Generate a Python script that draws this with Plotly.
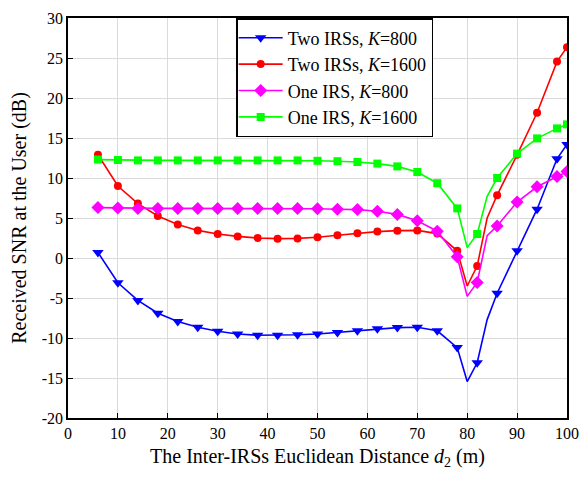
import plotly.graph_objects as go

# ---- data ----
distance = [6, 10, 14, 18, 22, 26, 30, 34, 38, 42, 46, 50, 54, 58, 62, 66, 70, 74, 78, 80, 82, 84, 86, 90, 94, 98, 100]
two_irs_k800 = [0.7, -3.1, -5.3, -6.9, -7.95, -8.65, -9.15, -9.5, -9.65, -9.65, -9.6, -9.5, -9.3, -9.1, -8.85, -8.7, -8.65, -9.1, -11.2, -15.45, -13.1, -7.7, -4.4, 0.9, 6.1, 12.4, 14.2]
two_irs_k1600 = [12.9, 9.0, 6.8, 5.25, 4.2, 3.45, 3.0, 2.7, 2.5, 2.42, 2.45, 2.6, 2.85, 3.1, 3.3, 3.42, 3.45, 3.05, 0.9, -3.5, -1.0, 5.0, 7.85, 12.9, 18.15, 24.55, 26.35]
one_irs_k800 = [6.3, 6.25, 6.2, 6.2, 6.2, 6.2, 6.2, 6.2, 6.2, 6.2, 6.2, 6.15, 6.1, 6.05, 5.85, 5.45, 4.65, 3.35, 0.15, -4.8, -3.05, 2.8, 4.0, 7.0, 8.9, 10.2, 10.8]
one_irs_k1600 = [12.3, 12.25, 12.2, 12.2, 12.2, 12.2, 12.2, 12.2, 12.2, 12.2, 12.2, 12.15, 12.1, 12.0, 11.8, 11.45, 10.75, 9.35, 6.2, 1.3, 3.0, 7.7, 10.0, 13.05, 14.95, 16.2, 16.7]
no_marker_at = [80, 84]

names = ["Two IRSs, <i>K</i>=800", "Two IRSs, <i>K</i>=1600", "One IRS, <i>K</i>=800", "One IRS, <i>K</i>=1600"]
x_ticks = [0, 10, 20, 30, 40, 50, 60, 70, 80, 90, 100]
y_ticks = [-20, -15, -10, -5, 0, 5, 10, 15, 20, 25, 30]

series = [two_irs_k800, two_irs_k1600, one_irs_k800, one_irs_k1600]
colors = ["#0000FF", "#FF0000", "#FF00FF", "#00FF00"]
symbols = ["triangle-down", "circle", "diamond", "square"]
sizes = [10, 8, 10, 8]

FONT = "Liberation Serif, Times New Roman, serif"

fig = go.Figure()
for ys, c, s, sz, nm in zip(series, colors, symbols, sizes, names):
    fig.add_trace(go.Scatter(x=distance, y=ys, mode="lines",
                             line=dict(color=c, width=1.6), showlegend=False, hoverinfo="skip"))
    mx = [x for x in distance if x not in no_marker_at]
    my = [y for x, y in zip(distance, ys) if x not in no_marker_at]
    fig.add_trace(go.Scatter(x=mx, y=my, mode="markers",
                             marker=dict(color=c, symbol=s, size=sz), showlegend=False))
    fig.add_trace(go.Scatter(x=[None], y=[None], mode="lines+markers", name=nm,
                             line=dict(color=c, width=1.6),
                             marker=dict(color=c, symbol=s, size=sz)))

axis_common = dict(showline=True, linecolor="black", linewidth=1.6, mirror=True,
                   showgrid=True, gridcolor="#DADADA", gridwidth=1,
                   ticks="inside", ticklen=5, tickwidth=1.2, tickcolor="black",
                   zeroline=False, automargin=False,
                   tickfont=dict(family=FONT, size=16, color="black"))

fig.update_xaxes(range=[0, 100], tickvals=x_ticks, ticktext=[str(v) for v in x_ticks],
                 title=dict(text="The Inter-IRSs Euclidean Distance <i>d</i><sub>2</sub> (m)",
                            font=dict(family=FONT, size=20, color="black"), standoff=8),
                 **axis_common)
fig.update_yaxes(range=[-20, 30], tickvals=y_ticks, ticktext=[str(v) for v in y_ticks],
                 title=dict(text="Received SNR at the User (dB)",
                            font=dict(family=FONT, size=20, color="black"), standoff=10),
                 **axis_common)

fig.update_layout(
    width=579, height=477,
    margin=dict(l=68, r=12, t=18, b=59, autoexpand=False),
    paper_bgcolor="white", plot_bgcolor="white",
    font=dict(family=FONT, color="black"),
    legend=dict(x=0.337, y=1.0, xanchor="left", yanchor="top",
                bgcolor="white", bordercolor="black", borderwidth=1.5,
                font=dict(family=FONT, size=18, color="black"),
                tracegroupgap=0, itemwidth=44, indentation=-4),
)

# remove the default page margin so the figure fills the 579x477 window exactly
fig.write_html("out.html", config={"displayModeBar": False},
               post_script="document.body.style.margin='0';document.body.style.overflow='hidden';")
